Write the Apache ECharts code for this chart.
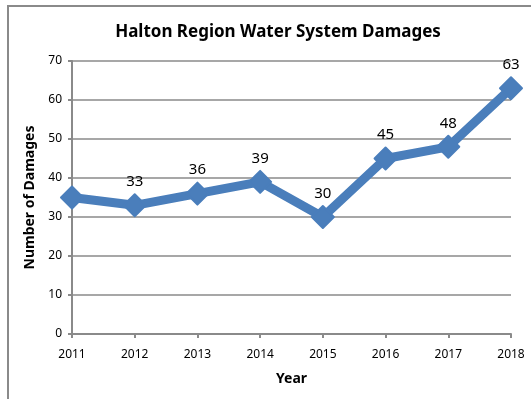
<!DOCTYPE html>
<html><head><meta charset="utf-8">
<script src="https://cdn.jsdelivr.net/npm/echarts@6/dist/echarts.min.js"></script>
<style>html,body{margin:0;padding:0;background:#fff}#c{width:531px;height:399px}</style>
</head><body><div id="c"></div>
<script>
const years = ['2011','2012','2013','2014','2015','2016','2017','2018'];
const damages = [35, 33, 36, 39, 30, 45, 48, 63];
const showLabel = [false, true, true, true, true, true, true, true];

const chart = echarts.init(document.getElementById('c'), null, {renderer:'canvas'});
const font = '"Noto Sans", "Open Sans", sans-serif';
chart.setOption({
  animation:false,
  textStyle:{fontFamily:font},
  graphic:[{type:'rect', shape:{x:8,y:6,width:600,height:500}, style:{fill:null, stroke:'#8a8a8a', lineWidth:2}}],
  title:{text:'Halton Region Water System Damages', left:273, top:19, textAlign:'center',
    textStyle:{fontSize:17, fontWeight:'bold', color:'#000', fontFamily:font}},
  grid:{left:72, right:20, top:61, bottom:65},
  xAxis:{type:'category', data:years, boundaryGap:false,
    name:'Year', nameLocation:'middle', nameGap:38,
    nameTextStyle:{fontSize:14, fontWeight:'bold', color:'#000'},
    axisLine:{lineStyle:{color:'#8a8a8a', width:2}},
    axisTick:{show:true, length:4, lineStyle:{color:'#8a8a8a', width:2}},
    axisLabel:{color:'#000', fontSize:12, margin:15}},
  yAxis:{type:'value', min:0, max:70, interval:10,
    name:'Number of Damages', nameLocation:'middle', nameGap:31,
    nameTextStyle:{fontSize:14, fontWeight:'bold', color:'#000'},
    axisLine:{show:true, lineStyle:{color:'#8a8a8a', width:2}},
    axisTick:{show:true, length:4, lineStyle:{color:'#8a8a8a', width:2}},
    axisLabel:{color:'#000', fontSize:12, margin:10},
    splitLine:{lineStyle:{color:'#8a8a8a', width:1.5}}},
  series:[{type:'line', data: damages.map((v,i)=>({value:v, label:{show:showLabel[i]}})),
    symbol:'diamond', symbolSize:22,
    lineStyle:{color:'#4a7ebb', width:9},
    itemStyle:{color:'#4a7ebb', borderColor:'#4a7ebb', borderWidth:2, borderJoin:'round'},
    label:{show:true, position:'top', distance:4, color:'#000', fontSize:15}}]
});
</script></body></html>
